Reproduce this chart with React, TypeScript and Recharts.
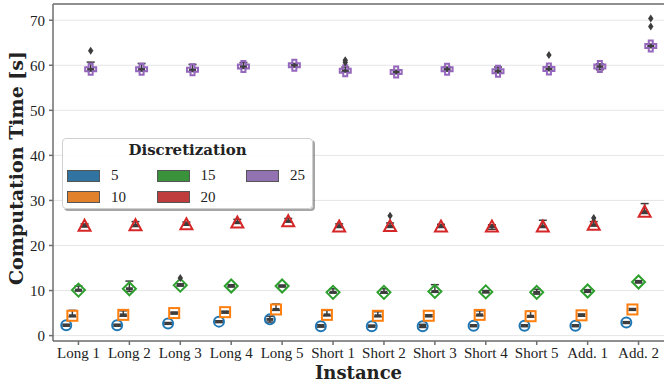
import React from "react";
import {
  ScatterChart,
  Scatter,
  XAxis,
  YAxis,
  CartesianGrid,
  ErrorBar,
  ReferenceLine,
} from "recharts";

const instances = ["Long 1", "Long 2", "Long 3", "Long 4", "Long 5", "Short 1", "Short 2", "Short 3", "Short 4", "Short 5", "Add. 1", "Add. 2"];
const hues = ["5", "10", "15", "20", "25"];
const yTicks = [0, 10, 20, 30, 40, 50, 60, 70];

// medians
const med5 = [2.3, 2.3, 2.7, 3.1, 3.6, 2.1, 2.1, 2.1, 2.2, 2.2, 2.2, 2.9];
const med10 = [4.4, 4.6, 5.0, 5.2, 5.8, 4.6, 4.4, 4.4, 4.6, 4.3, 4.5, 5.8];
const med15 = [10.1, 10.4, 11.2, 11.0, 11.0, 9.6, 9.6, 9.8, 9.7, 9.6, 9.9, 11.9];
const med20 = [24.4, 24.5, 24.7, 25.1, 25.4, 24.2, 24.3, 24.2, 24.2, 24.2, 24.6, 27.5];
const med25 = [59.1, 59.1, 59.0, 59.7, 60.0, 58.8, 58.5, 59.1, 58.7, 59.2, 59.7, 64.3];

// whisker ends
const lo5 = [2.1, 2.1, 2.5, 2.9, 3.0, 1.9, 1.9, 1.8, 2.0, 2.0, 2.0, 2.7];
const hi5 = [2.5, 2.5, 2.9, 3.3, 4.3, 2.4, 2.3, 2.5, 2.4, 2.4, 2.4, 3.1];
const lo10 = [4.2, 4.3, 4.8, 5.0, 5.6, 4.4, 4.2, 4.2, 4.4, 4.1, 4.3, 5.6];
const hi10 = [5.6, 5.5, 5.2, 5.4, 7.0, 5.6, 5.3, 4.6, 5.5, 5.4, 4.8, 6.0];
const lo15 = [9.9, 9.8, 11.0, 10.8, 10.8, 9.5, 9.4, 9.6, 9.5, 9.2, 9.6, 11.7];
const hi15 = [11.0, 12.1, 11.5, 11.3, 11.2, 10.4, 10.4, 11.3, 10.0, 10.3, 10.2, 12.2];
const lo20 = [24.1, 24.2, 24.5, 24.9, 25.2, 24.0, 24.0, 24.0, 23.6, 24.0, 24.3, 27.1];
const hi20 = [24.8, 25.3, 25.2, 25.8, 26.0, 24.8, 25.0, 24.7, 24.6, 25.6, 25.3, 29.3];
const lo25 = [58.7, 58.7, 58.6, 59.3, 59.6, 58.5, 58.1, 58.7, 58.3, 58.8, 59.0, 63.9];
const hi25 = [60.7, 60.4, 60.2, 60.6, 60.4, 59.6, 58.9, 59.6, 59.6, 59.7, 60.3, 64.7];

// outliers: [instance index, value]
const out15 = [[2, 12.8]];
const out20 = [[6, 26.6], [10, 26.1]];
const out25 = [[0, 63.2], [5, 60.6], [5, 61.1], [9, 62.3], [11, 68.6], [11, 70.4]];

const meds = [med5, med10, med15, med20, med25];
const los = [lo5, lo10, lo15, lo20, lo25];
const his = [hi5, hi10, hi15, hi20, hi25];
const outs = [[], [], out15, out20, out25];

const markerColors = ["#1f77b4", "#ff7f0e", "#2ca02c", "#d62728", "#9467bd"];
const patchColors = ["#3274a1", "#e1812c", "#3a923a", "#c03d3e", "#9372b2"];
const offsets = [-0.24, -0.12, 0, 0.12, 0.24];
const dark = "#3d3d3d";
const serif = "'Liberation Serif', serif";
const boldSerif = "'DejaVu Serif', serif";

const seriesData = hues.map((h, k) =>
  instances.map((name, i) => ({
    x: i + offsets[k],
    y: meds[k][i],
    err: [meds[k][i] - los[k][i], his[k][i] - meds[k][i]],
  }))
);

const outlierData = outs.flatMap((list, k) =>
  (list as number[][]).map(([i, v]) => ({ x: i + offsets[k], y: v }))
);

const makeShape = (k: number) => (props: any) => {
  const { cx, cy } = props;
  const c = markerColors[k];
  const box = <rect x={cx - 3.5} y={cy - 1.5} width={7} height={3} fill={dark} />;
  let mark;
  if (k === 0) mark = <circle cx={cx} cy={cy} r={5} fill="none" stroke={c} strokeWidth={2} />;
  else if (k === 1) mark = <rect x={cx - 5} y={cy - 5} width={10} height={10} fill="none" stroke={c} strokeWidth={2} />;
  else if (k === 2)
    mark = <polygon points={`${cx},${cy - 6.5} ${cx + 6.5},${cy} ${cx},${cy + 6.5} ${cx - 6.5},${cy}`} fill="none" stroke={c} strokeWidth={2} />;
  else if (k === 3)
    mark = <polygon points={`${cx},${cy - 6} ${cx + 6},${cy + 5} ${cx - 6},${cy + 5}`} fill="none" stroke={c} strokeWidth={2} />;
  else {
    const a = 2, b = 5.5;
    const pts = [
      [-a, -b], [a, -b], [a, -a], [b, -a], [b, a], [a, a],
      [a, b], [-a, b], [-a, a], [-b, a], [-b, -a], [-a, -a],
    ].map(([px, py]) => `${cx + px},${cy + py}`).join(" ");
    mark = <polygon points={pts} fill="none" stroke={c} strokeWidth={2} />;
  }
  return (
    <g>
      {box}
      {mark}
    </g>
  );
};

const outlierShape = (props: any) => {
  const { cx, cy } = props;
  return <polygon points={`${cx},${cy - 4} ${cx + 2.7},${cy} ${cx},${cy + 4} ${cx - 2.7},${cy}`} fill={dark} />;
};

const LegendBox = () => (
  <div
    style={{
      position: "absolute",
      left: 62,
      top: 138,
      width: 251,
      height: 71,
      boxSizing: "border-box",
      border: "1px solid #d0d0d0",
      borderRadius: 4,
      background: "rgba(255,255,255,0.9)",
      boxShadow: "2px 2px 0 rgba(0,0,0,0.35)",
    }}
  >
    <div style={{ position: "absolute", left: 0, right: 0, top: 2, textAlign: "center", fontFamily: boldSerif, fontWeight: "bold", fontSize: 15, color: "#222" }}>
      Discretization
    </div>
    {hues.map((h, k) => {
      const col = Math.floor(k / 2);
      const row = k % 2;
      const left = 4 + col * 89.5;
      const top = 28 + row * 21.5;
      return (
        <div key={h} style={{ position: "absolute", left, top, display: "flex", alignItems: "center" }}>
          <div style={{ width: 31, height: 10, background: patchColors[k], border: "1px solid #555" }} />
          <span style={{ marginLeft: 11, fontFamily: serif, fontSize: 15, color: "#222" }}>{h}</span>
        </div>
      );
    })}
  </div>
);

export default function App() {
  return (
    <div style={{ position: "absolute", left: 0, top: 0, width: 664, height: 385 }}>
      <ScatterChart width={664} height={385} margin={{ top: 4, right: 0, bottom: 0, left: 0 }}>
        <CartesianGrid vertical={false} stroke="#e6e6e6" strokeWidth={1} />
        <XAxis
          type="number"
          dataKey="x"
          domain={[-0.5, 11.5]}
          ticks={instances.map((_, i) => i)}
          tickFormatter={(i: number) => instances[i]}
          interval={0}
          height={44}
          allowDataOverflow
          stroke="#6e6e6e"
          strokeWidth={1.5}
          tickSize={4}
          tickMargin={2}
          tick={{ fill: "#222", fontFamily: serif, fontSize: 15 }}
          label={(p: any) => (
            <text x={p.viewBox.x + p.viewBox.width / 2} y={379} textAnchor="middle" fontFamily={boldSerif} fontWeight="bold" fontSize={18} fill="#222">
              Instance
            </text>
          )}
        />
        <YAxis
          type="number"
          dataKey="y"
          domain={[-1.2, 73.6]}
          ticks={yTicks}
          width={53}
          allowDataOverflow
          stroke="#6e6e6e"
          strokeWidth={1.5}
          tickSize={4}
          tickMargin={4}
          tick={{ fill: "#222", fontFamily: serif, fontSize: 15 }}
          label={() => (
            <text
              x={16}
              y={168}
              transform={`rotate(-90, 16, 168)`}
              textAnchor="middle"
              dominantBaseline="central"
              fontFamily={boldSerif}
              fontWeight="bold"
              fontSize={19}
              fill="#222"
            >
              Computation Time [s]
            </text>
          )}
        />
        <ReferenceLine y={73.6} stroke="#6e6e6e" strokeWidth={1.5} />
        {hues.map((h, k) => (
          <Scatter key={h} name={h} data={seriesData[k]} shape={makeShape(k)} isAnimationActive={false}>
            <ErrorBar dataKey="err" direction="y" width={4} stroke={dark} strokeWidth={1.5} />
          </Scatter>
        ))}
        <Scatter name="outliers" data={outlierData} shape={outlierShape} isAnimationActive={false} />
      </ScatterChart>
      <LegendBox />
    </div>
  );
}
